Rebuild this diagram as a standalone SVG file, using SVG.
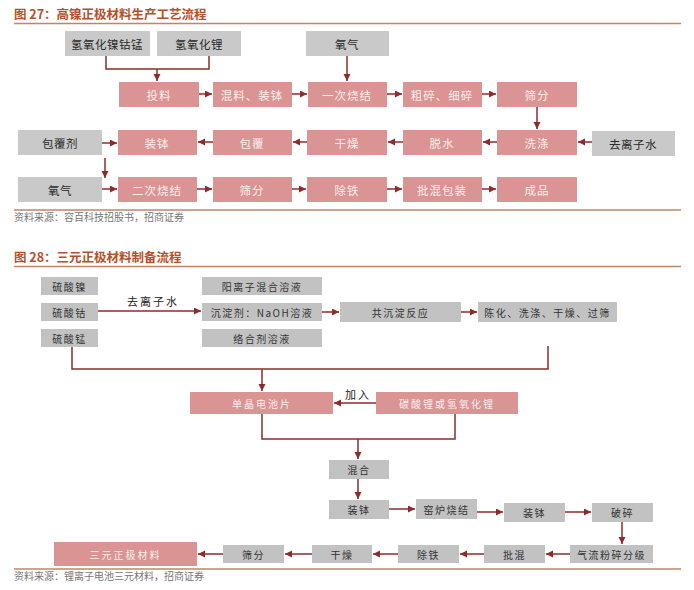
<svg xmlns="http://www.w3.org/2000/svg" width="694" height="590" viewBox="0 0 694 590">
<defs>
<marker id="ah" markerUnits="userSpaceOnUse" markerWidth="8" markerHeight="8" refX="7" refY="3.5" orient="auto">
<path d="M0,0 L7,3.5 L0,7 z" fill="#8c2b2b"/>
</marker>
<style>
text{font-family:"Noto Sans CJK SC","Noto Sans",sans-serif;}
.title{font-size:12.5px;font-weight:bold;fill:#b5502a;}
.rule{stroke:#c08466;stroke-width:1.5;fill:none;}
.src{font-size:10px;fill:#777;}
.pk{fill:#d99493;}
.gy{fill:#c9c9c9;}
.gy2{fill:#c2c2c2;}
.tp{font-size:11.5px;fill:#fbeeee;text-anchor:middle;dominant-baseline:central;letter-spacing:1px;}
.tg{font-size:11.5px;fill:#2a2a2a;text-anchor:middle;dominant-baseline:central;letter-spacing:0.5px;}
.sp{font-size:10px;fill:#fbeeee;text-anchor:middle;dominant-baseline:central;letter-spacing:2px;}
.sg{font-size:10px;fill:#333;text-anchor:middle;dominant-baseline:central;letter-spacing:1.5px;}
.lbl{font-size:11px;fill:#222;dominant-baseline:central;letter-spacing:2px;}
.c{stroke:#8c2b2b;stroke-width:1.5;fill:none;}
.a{stroke:#8c2b2b;stroke-width:1.5;fill:none;marker-end:url(#ah);}
</style>
</defs>
<rect width="694" height="590" fill="#fff"/>

<text class="title" x="14" y="19">图 27：高镍正极材料生产工艺流程</text>
<line class="rule" x1="14" y1="23.5" x2="681" y2="23.5"/>

<g id="n-nicomn"><rect class="gy" x="65" y="31" width="85" height="25"/><text class="tg" x="107" y="43.5">氢氧化镍钴锰</text></g>
<g id="n-lioh"><rect class="gy" x="157" y="31" width="84" height="25"/><text class="tg" x="199" y="43.5">氢氧化锂</text></g>
<g id="n-o2a"><rect class="gy" x="306" y="31" width="83" height="25"/><text class="tg" x="347" y="43.5">氧气</text></g>

<g id="n-tl"><rect class="pk" x="119" y="82" width="80" height="25"/><text class="tp" x="159" y="94.5">投料</text></g>
<g id="n-hl"><rect class="pk" x="213" y="82" width="79" height="25"/><text class="tp" x="252" y="94.5">混料、装钵</text></g>
<g id="n-ycsj"><rect class="pk" x="308" y="82" width="79" height="25"/><text class="tp" x="347" y="94.5">一次烧结</text></g>
<g id="n-cs"><rect class="pk" x="403" y="82" width="79" height="25"/><text class="tp" x="442" y="94.5">粗碎、细碎</text></g>
<g id="n-sf1"><rect class="pk" x="497" y="82" width="80" height="25"/><text class="tp" x="537" y="94.5">筛分</text></g>

<g id="n-bfj"><rect class="gy" x="18" y="130" width="84" height="25"/><text class="tg" x="60" y="142.5">包覆剂</text></g>
<g id="n-zb1"><rect class="pk" x="118" y="130" width="79" height="25"/><text class="tp" x="157" y="142.5">装钵</text></g>
<g id="n-bf"><rect class="pk" x="213" y="130" width="79" height="25"/><text class="tp" x="252" y="142.5">包覆</text></g>
<g id="n-gz1"><rect class="pk" x="307" y="130" width="80" height="25"/><text class="tp" x="347" y="142.5">干燥</text></g>
<g id="n-ts"><rect class="pk" x="403" y="130" width="79" height="25"/><text class="tp" x="442" y="142.5">脱水</text></g>
<g id="n-xd"><rect class="pk" x="497" y="130" width="80" height="25"/><text class="tp" x="537" y="142.5">洗涤</text></g>
<g id="n-qlzs1"><rect class="gy" x="592" y="131" width="83" height="25"/><text class="tg" x="633" y="143.5">去离子水</text></g>

<g id="n-o2b"><rect class="gy" x="18" y="177" width="84" height="25"/><text class="tg" x="60" y="189.5">氧气</text></g>
<g id="n-ecsj"><rect class="pk" x="118" y="177" width="79" height="25"/><text class="tp" x="157" y="189.5">二次烧结</text></g>
<g id="n-sf2"><rect class="pk" x="213" y="177" width="79" height="25"/><text class="tp" x="252" y="189.5">筛分</text></g>
<g id="n-ct1"><rect class="pk" x="307" y="177" width="80" height="25"/><text class="tp" x="347" y="189.5">除铁</text></g>
<g id="n-phbz"><rect class="pk" x="403" y="177" width="79" height="25"/><text class="tp" x="442" y="189.5">批混包装</text></g>
<g id="n-cp"><rect class="pk" x="497" y="177" width="80" height="25"/><text class="tp" x="537" y="189.5">成品</text></g>

<line class="rule" x1="14" y1="210" x2="681" y2="210"/>
<text class="src" x="14" y="221">资料来源：容百科技招股书，招商证券</text>

<text class="title" x="14" y="262">图 28：三元正极材料制备流程</text>
<line class="rule" x1="14" y1="266.5" x2="681" y2="266.5"/>

<g id="n-lsn"><rect class="gy2" x="41" y="277" width="57" height="18"/><text class="sg" x="69.5" y="286">硫酸镍</text></g>
<g id="n-lsg"><rect class="gy2" x="41" y="303" width="57" height="18"/><text class="sg" x="69.5" y="312">硫酸钴</text></g>
<g id="n-lsm"><rect class="gy2" x="41" y="329" width="57" height="18"/><text class="sg" x="69.5" y="338">硫酸锰</text></g>
<g id="n-ylz"><rect class="gy2" x="202" y="277" width="120" height="18"/><text class="sg" x="262" y="286">阳离子混合溶液</text></g>
<g id="n-cdj"><rect class="gy2" x="202" y="303" width="120" height="18"/><text class="sg" x="262" y="312">沉淀剂：NaOH溶液</text></g>
<g id="n-lhj"><rect class="gy2" x="202" y="329" width="120" height="18"/><text class="sg" x="262" y="338">络合剂溶液</text></g>
<g id="n-gcd"><rect class="gy2" x="340" y="302" width="121" height="20"/><text class="sg" x="400.5" y="312">共沉淀反应</text></g>
<g id="n-ch"><rect class="gy2" x="478" y="302" width="139" height="20"/><text class="sg" x="547.5" y="312">陈化、洗涤、干燥、过筛</text></g>

<g id="n-djdc"><rect class="pk" x="190" y="392" width="143" height="22"/><text class="sp" x="262" y="403">单晶电池片</text></g>
<g id="n-tsl"><rect class="pk" x="376" y="392" width="142" height="22"/><text class="sp" x="447" y="403">碳酸锂或氢氧化锂</text></g>

<g id="n-hh"><rect class="gy2" x="329" y="460" width="60" height="19"/><text class="sg" x="359" y="469.5">混合</text></g>
<g id="n-zb2"><rect class="gy2" x="329" y="500" width="60" height="19"/><text class="sg" x="359" y="509.5">装钵</text></g>
<g id="n-yl"><rect class="gy2" x="416" y="499" width="61" height="20"/><text class="sg" x="446.5" y="509">窑炉烧结</text></g>
<g id="n-zb3"><rect class="gy2" x="504" y="503" width="61" height="19"/><text class="sg" x="534.5" y="512.5">装钵</text></g>
<g id="n-ps"><rect class="gy2" x="592" y="503" width="61" height="19"/><text class="sg" x="622.5" y="512.5">破碎</text></g>
<g id="n-qlfs"><rect class="gy2" x="570" y="545" width="83" height="18"/><text class="sg" x="611.5" y="554">气流粉碎分级</text></g>
<g id="n-ph"><rect class="gy2" x="484" y="545" width="61" height="18"/><text class="sg" x="514.5" y="554">批混</text></g>
<g id="n-ct2"><rect class="gy2" x="398" y="545" width="61" height="18"/><text class="sg" x="428.5" y="554">除铁</text></g>
<g id="n-gz2"><rect class="gy2" x="312" y="545" width="60" height="18"/><text class="sg" x="342" y="554">干燥</text></g>
<g id="n-sf3"><rect class="gy2" x="223" y="545" width="61" height="18"/><text class="sg" x="253.5" y="554">筛分</text></g>
<g id="n-sy"><rect class="pk" x="54" y="542" width="143" height="24"/><text class="sp" x="125.5" y="554">三元正极材料</text></g>

<line class="rule" x1="14" y1="569" x2="681" y2="569"/>
<text class="src" x="14" y="580">资料来源：锂离子电池三元材料，招商证券</text>

<g id="connectors">
<path class="c" d="M106,56 V69 H209 V56"/>
<path class="a" d="M157,69 V81"/>
<path class="a" d="M347,56 V81"/>
<path class="a" d="M199,94 H212"/>
<path class="a" d="M292,94 H307"/>
<path class="a" d="M387,94 H402"/>
<path class="a" d="M482,94 H496"/>
<path class="a" d="M537,107 V129"/>
<path class="a" d="M592,142 H578"/>
<path class="a" d="M497,142 H483"/>
<path class="a" d="M403,142 H388"/>
<path class="a" d="M307,142 H293"/>
<path class="a" d="M213,142 H198"/>
<path class="a" d="M102,143 H117"/>
<path class="a" d="M105,158 V178"/>
<path class="a" d="M102,189 H117"/>
<path class="a" d="M197,189 H212"/>
<path class="a" d="M292,189 H306"/>
<path class="a" d="M387,189 H402"/>
<path class="a" d="M482,189 H496"/>

<path class="a" d="M98,311 H201"/>
<text class="lbl" x="127" y="301">去离子水</text>
<path class="a" d="M322,312 H339"/>
<path class="a" d="M461,312 H477"/>
<path class="c" d="M72,347 V369 H548 V346"/>
<path class="a" d="M262,369 V391"/>
<path class="a" d="M376,403 H334"/>
<text class="lbl" x="345" y="394">加入</text>
<path class="c" d="M262,414 V439 H455 V414"/>
<path class="a" d="M358,439 V459"/>
<path class="a" d="M358,479 V499"/>
<path class="a" d="M389,509 H415"/>
<path class="a" d="M477,512 H503"/>
<path class="a" d="M565,512 H591"/>
<path class="a" d="M622,522 V544"/>
<path class="a" d="M570,554 H546"/>
<path class="a" d="M484,554 H460"/>
<path class="a" d="M398,554 H373"/>
<path class="a" d="M312,554 H285"/>
<path class="a" d="M223,554 H198"/>
</g>
</svg>
